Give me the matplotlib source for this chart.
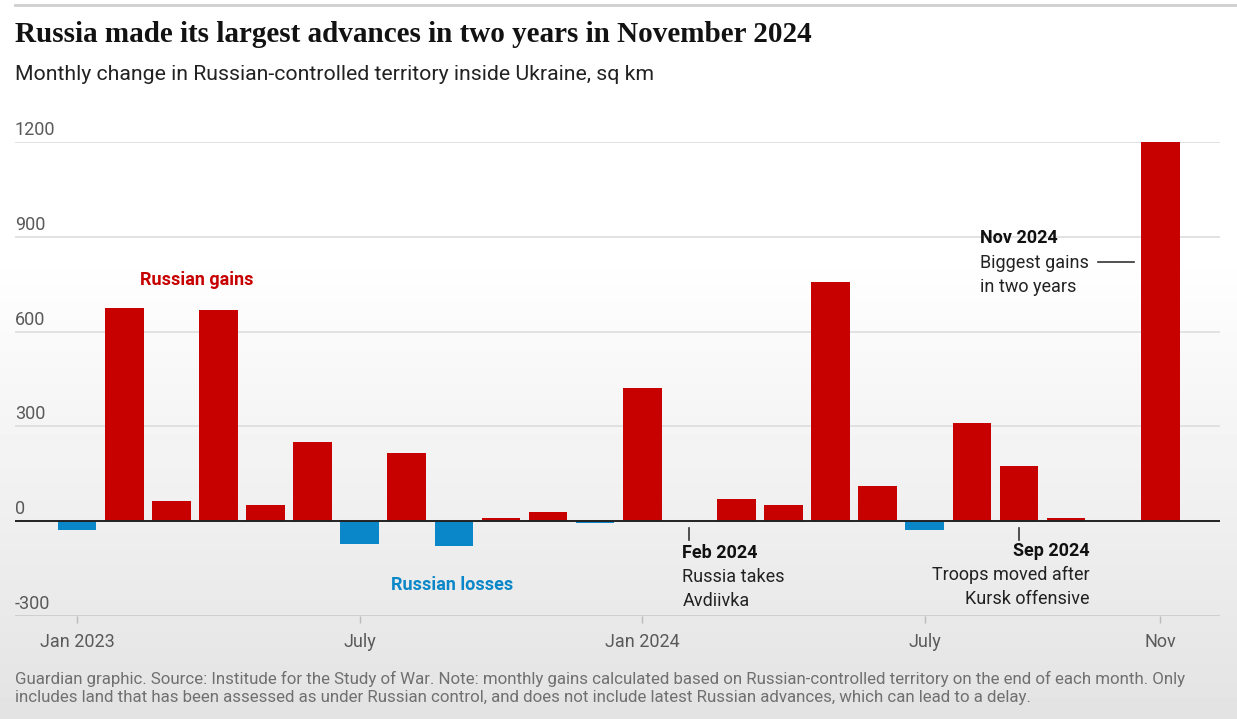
import matplotlib
matplotlib.use("Agg")
import matplotlib.pyplot as plt
import matplotlib.transforms as mtransforms
import numpy as np

# monthly change, sq km (Jan 2023 ... Nov 2024 as drawn in the graphic)
months = list(range(24))
change = [-28, 676, 65, 669, 50, 250, -73, 217, -79, 9, 28, -6,
          423, 0, 70, 50, 756, 111, -29, 311, 174, 9, 0, 1200]

tick_pos = [0, 6, 12, 18, 23]
tick_labels = ["Jan 2023", "July", "Jan 2024", "July", "Nov"]
y_ticks = [-300, 0, 300, 600, 900, 1200]

RED = "#c70000"
BLUE = "#0a87c8"
GREY = "#5a5a5a"
SANS = ["Roboto", "DejaVu Sans"]

fig = plt.figure(figsize=(12.37, 7.19), dpi=100)

# background: white on top fading to light grey (screenshot look)
bg = fig.add_axes([0, 0, 1, 1], zorder=-10)
grad = np.ones((200, 1))
t = np.linspace(0, 1, 200)
grad[:, 0] = np.clip((t - 0.35) / 0.65, 0, 1)
vals = 1.0 - 0.11 * grad
bg.imshow(vals, cmap="gray", vmin=0, vmax=1, aspect="auto", extent=[0, 1, 0, 1])
bg.axis("off")
bg.set_xlim(0, 1)
bg.set_ylim(0, 1)
bg.plot([0.012, 1], [0.993, 0.993], color="#cfcfcf", lw=2)

ax = fig.add_axes([15 / 1237, 103 / 719, 1205 / 1237, 474 / 719])
ax.patch.set_alpha(0)

colors = [RED if v >= 0 else BLUE for v in change]
ax.bar(months, change, width=0.82, color=colors, zorder=3)

ax.set_xlim(-1.32, 24.27)
ax.set_ylim(-300, 1200)

for v in y_ticks:
    if v == 0:
        ax.axhline(0, color="#222222", lw=1.4, zorder=4)
    else:
        ax.axhline(v, color="#dddddd", lw=1.2, zorder=1)

lab_off = mtransforms.offset_copy(ax.transData, fig=fig, x=0, y=3, units="dots")
for v in y_ticks:
    ax.text(-1.32, v, str(v), transform=lab_off, ha="left", va="bottom",
            fontsize=13, color=GREY, family=SANS)

for s in ax.spines.values():
    s.set_visible(False)
ax.set_yticks([])
ax.set_xticks(tick_pos)
ax.set_xticklabels(tick_labels, fontsize=13, color=GREY, family=SANS)
ax.tick_params(axis="x", length=5, width=1, color="#bbbbbb", pad=7)
ax.axhline(-300, color="#cccccc", lw=1.2, zorder=1)

# labels
ax.text(2.53, 763, "Russian gains", color=RED, fontsize=13, fontweight="bold",
        ha="center", va="center", family=SANS)
ax.text(7.96, -203, "Russian losses", color=BLUE, fontsize=13, fontweight="bold",
        ha="center", va="center", family=SANS)

# Feb 2024 note
ax.plot([13, 13], [-20, -60], color="#333333", lw=1.2)
ax.text(12.85, -100, "Feb 2024", fontsize=13, fontweight="bold", color="#111111",
        ha="left", va="center", family=SANS)
ax.text(12.85, -215, "Russia takes\nAvdiivka", fontsize=13, color="#222222",
        ha="left", va="center", linespacing=1.45, family=SANS)

# Sep 2024 note
ax.plot([20, 20], [-20, -60], color="#333333", lw=1.2)
ax.text(21.5, -94, "Sep 2024", fontsize=13, fontweight="bold", color="#111111",
        ha="right", va="center", family=SANS)
ax.text(21.5, -209, "Troops moved after\nKursk offensive", fontsize=13, color="#222222",
        ha="right", va="center", multialignment="right", linespacing=1.45, family=SANS)

# Nov 2024 note
ax.text(19.18, 896, "Nov 2024", fontsize=13, fontweight="bold", color="#111111",
        ha="left", va="center", family=SANS)
ax.text(19.18, 780, "Biggest gains\nin two years", fontsize=13, color="#222222",
        ha="left", va="center", linespacing=1.45, family=SANS)
ax.plot([21.67, 22.44], [820, 820], color="#333333", lw=1.2)

fig.text(15 / 1237, 1 - 35 / 719, "Russia made its largest advances in two years in November 2024",
         fontsize=21, fontweight="bold", family=["Liberation Serif", "DejaVu Serif"],
         color="#121212", ha="left", va="center")
fig.text(15 / 1237, 1 - 75 / 719, "Monthly change in Russian-controlled territory inside Ukraine, sq km",
         fontsize=15.3, family=SANS, color="#222222", ha="left", va="center")
fig.text(15 / 1237, 1 - 688 / 719,
         "Guardian graphic. Source: Institude for the Study of War. Note: monthly gains calculated based on Russian-controlled territory on the end of each month. Only\n"
         "includes land that has been assessed as under Russian control, and does not include latest Russian advances, which can lead to a delay.",
         fontsize=12.2, family=SANS, color="#707070", ha="left", va="center", linespacing=1.3)

fig.savefig("out.png", dpi=100)
